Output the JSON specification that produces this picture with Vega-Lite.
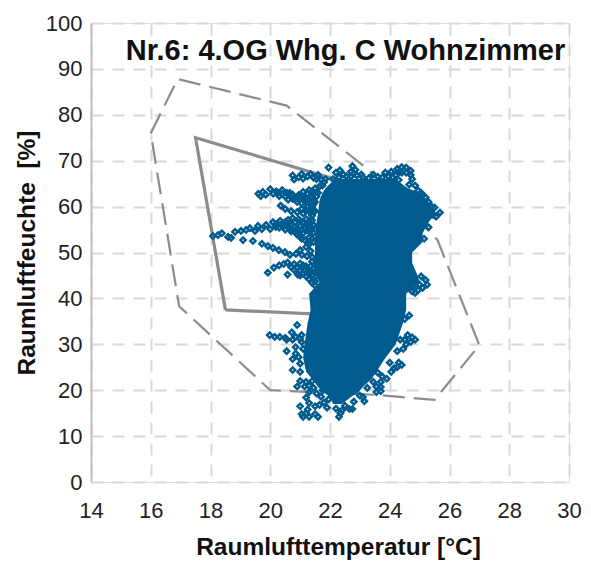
{"$schema":"https://vega.github.io/schema/vega-lite/v6.json","width":478,"height":459,"autosize":"none","padding":{"left":91,"top":23,"right":22,"bottom":83},"background":"white",
"datasets":{
"outer":[{"o":1,"t":16,"h":76},{"o":2,"t":16.9,"h":87.8},{"o":3,"t":20.55,"h":82},{"o":4,"t":23.3,"h":68},{"o":5,"t":25.6,"h":52.7},{"o":6,"t":27,"h":29.8},{"o":7,"t":25.5,"h":17.9},{"o":8,"t":23.5,"h":19},{"o":9,"t":20,"h":20},{"o":10,"t":16.95,"h":38.3},{"o":11,"t":16,"h":76}],
"inner":[{"o":1,"t":18.5,"h":37.5},{"o":2,"t":17.5,"h":75},{"o":3,"t":22,"h":66.3},{"o":4,"t":23.5,"h":60},{"o":5,"t":23.5,"h":36},{"o":6,"t":18.5,"h":37.5}],
"core":[{"h":17,"a":22.1,"b":22.4},{"h":18.5,"a":22,"b":22.7},{"h":19.5,"a":21.8,"b":22.95},{"h":20.7,"a":21.6,"b":23.1},{"h":22.5,"a":21.4,"b":23.4},{"h":24,"a":21.2,"b":23.55},{"h":27,"a":21.1,"b":23.85},{"h":30,"a":21.15,"b":24.2},{"h":34.6,"a":21.25,"b":24.44},{"h":37.5,"a":21.35,"b":24.55},{"h":41,"a":21.3,"b":24.55},{"h":43.6,"a":21.65,"b":25},{"h":45.5,"a":21.45,"b":24.9},{"h":47.7,"a":21.45,"b":24.75},{"h":50,"a":21.5,"b":24.75},{"h":52.3,"a":21.5,"b":25.1},{"h":54.2,"a":21.5,"b":25.1},{"h":56.6,"a":21.55,"b":25.3},{"h":58.6,"a":21.6,"b":25.55},{"h":61.4,"a":21.65,"b":25.25},{"h":63,"a":21.75,"b":25},{"h":64,"a":21.85,"b":24.6},{"h":65,"a":22,"b":24.4},{"h":66,"a":22.2,"b":24.2}],
"pts":[
{"t":18.08,"h":53.6},{"t":18.25,"h":53.8},{"t":18.38,"h":54.2},{"t":18.59,"h":53.4},{"t":18.69,"h":53.2},{"t":18.82,"h":54.5},{"t":19.02,"h":54.7},{"t":19.19,"h":54.9},{"t":19.32,"h":55.3},{"t":19.49,"h":54.7},{"t":19.59,"h":55.8},{"t":19.72,"h":55.1},{"t":19.86,"h":56},{"t":20,"h":55.1},{"t":20.09,"h":56.6},{"t":20.19,"h":55.6},{"t":20.33,"h":56.9},{"t":20.46,"h":55.8},{"t":20.6,"h":57.1},{"t":20.66,"h":55.1},{"t":20.83,"h":56.6},{"t":20.83,"h":54.5},{"t":21,"h":55.8},{"t":21,"h":53.6},{"t":21.16,"h":55.3},{"t":21.16,"h":52.7},{"t":21.33,"h":54.5},{"t":20.3,"h":55.4},{"t":20.5,"h":56.6},{"t":20.7,"h":56},{"t":20.9,"h":55.2},{"t":21.1,"h":56.5},{"t":21.3,"h":56},{"t":21.4,"h":53},{"t":21.3,"h":51.8},{"t":20.95,"h":57.3},{"t":20.75,"h":57.5},{"t":21.2,"h":57.3},{"t":21.4,"h":57},{"t":21.4,"h":55.3},{"t":20.5,"h":55},{"t":20.7,"h":54.6},{"t":20.9,"h":53.9},{"t":21.1,"h":54.2},{"t":21.3,"h":53.3},{"t":21.45,"h":52.3},{"t":20.2,"h":56.2},{"t":20.4,"h":56.3},{"t":20.6,"h":56.3},{"t":20.8,"h":55.6},{"t":21.05,"h":54.9},{"t":21.25,"h":54.9},{"t":21.2,"h":56},{"t":21,"h":56.8},{"t":21.45,"h":56},{"t":21.45,"h":54.3},{"t":21.05,"h":53},{"t":21.25,"h":52.2},{"t":20.95,"h":54.6},{"t":20.6,"h":55.6},{"t":21.3,"h":56.8},{"t":21.35,"h":55},
{"t":19.09,"h":52.7},{"t":19.42,"h":52.5},{"t":19.72,"h":51.9},{"t":19.92,"h":51.4},{"t":20.09,"h":51},{"t":20.29,"h":50.5},{"t":20.49,"h":50.1},{"t":20.66,"h":49.5},{"t":20.86,"h":49.7},{"t":21.06,"h":49.5},{"t":21.23,"h":49.2},{"t":21,"h":50.5},{"t":21.2,"h":51.2},{"t":21.35,"h":50.3},{"t":21.4,"h":49},
{"t":19.92,"h":45.6},{"t":20.12,"h":46.7},{"t":20.58,"h":47.8},{"t":21.2,"h":47},{"t":20.58,"h":45.2},{"t":20.92,"h":45.2},{"t":20.9,"h":46.7},{"t":21,"h":46},{"t":21.1,"h":45.4},{"t":21.2,"h":44.8},{"t":21.3,"h":46},{"t":21.3,"h":44.2},{"t":21.4,"h":43.4},{"t":20.8,"h":47.5},{"t":20.3,"h":47.2},{"t":21.5,"h":42.8},{"t":21.4,"h":48},{"t":20.45,"h":47.5},{"t":20.7,"h":46.8},{"t":21,"h":47.6},{"t":21.15,"h":46.2},{"t":21.35,"h":47},{"t":21.4,"h":45},{"t":21.45,"h":44.2},{"t":21.6,"h":42},{"t":21.05,"h":46.8},{"t":21.25,"h":46.5},{"t":21.1,"h":47.2},{"t":21.25,"h":45.5},{"t":21.35,"h":45.6},{"t":21,"h":45},{"t":20.8,"h":46.2},{"t":21.45,"h":46.5},{"t":21.5,"h":43.7},
{"t":19.6,"h":62.8},{"t":19.68,"h":62.3},{"t":19.75,"h":63.2},{"t":19.85,"h":62.6},{"t":20,"h":63.8},{"t":20.1,"h":62.8},{"t":20.2,"h":63.3},{"t":20.3,"h":62.3},{"t":20.4,"h":63.6},{"t":20.5,"h":62.2},{"t":20.65,"h":63},{"t":20.8,"h":62},{"t":20.95,"h":62.5},{"t":21.1,"h":61.8},{"t":21.25,"h":62.8},{"t":21.4,"h":62},{"t":21.5,"h":61},{"t":21.6,"h":63},{"t":20.6,"h":61.5},{"t":20.9,"h":61},{"t":21.2,"h":60.8},{"t":21.4,"h":60},{"t":20.35,"h":60.2},{"t":20.5,"h":59.5},{"t":20.7,"h":59},{"t":20.9,"h":58.8},{"t":21.1,"h":58.5},{"t":21.4,"h":58},{"t":21.3,"h":59.2},{"t":21.5,"h":64},{"t":20.25,"h":63},{"t":20.4,"h":62.7},{"t":20.55,"h":63},{"t":20.75,"h":62.6},{"t":20.9,"h":61.8},{"t":21.05,"h":62.3},{"t":21.2,"h":61.9},{"t":21.35,"h":61},{"t":21.05,"h":60.7},{"t":21.25,"h":60},{"t":21.5,"h":59},{"t":21.5,"h":63},{"t":21.3,"h":63.6},{"t":21.1,"h":63.2},{"t":21.65,"h":64.4},{"t":20.75,"h":61.7},{"t":21.15,"h":61.3},{"t":21.3,"h":61.5},{"t":21.45,"h":61.5},{"t":21.45,"h":60.5},{"t":21.2,"h":59.2},{"t":21.05,"h":59.5},{"t":20.95,"h":62},{"t":21.45,"h":59.3},{"t":21.55,"h":62.2},{"t":21.35,"h":58.6},{"t":21.4,"h":63.2},{"t":21.75,"h":64.6},
{"t":20.75,"h":66.8},{"t":20.8,"h":65.9},{"t":21.05,"h":67.1},{"t":21.1,"h":66.1},{"t":21.35,"h":67.1},{"t":21.45,"h":66.3},{"t":21.6,"h":66.9},{"t":21.7,"h":65.9},{"t":21.95,"h":68.5},{"t":21.85,"h":66},{"t":20.95,"h":66.4},{"t":21.25,"h":66.6},{"t":21.55,"h":66},{"t":21.8,"h":65.3},
{"t":22.1,"h":66},{"t":22.2,"h":67.4},{"t":22.33,"h":67.9},{"t":22.45,"h":67},{"t":22.3,"h":66.4},{"t":22.55,"h":66.6},{"t":22.7,"h":66.6},{"t":22.75,"h":68.8},{"t":22.85,"h":68},{"t":22.7,"h":67.6},{"t":22.9,"h":66.8},{"t":22.8,"h":67.2},{"t":23.05,"h":67},{"t":23.1,"h":66.4},{"t":23.3,"h":66.2},{"t":23.45,"h":67},{"t":23.6,"h":66.5},{"t":23.75,"h":66.4},{"t":23.85,"h":67.4},{"t":23.95,"h":66.6},{"t":24.05,"h":67.6},{"t":24.25,"h":68.2},{"t":24.4,"h":68.6},{"t":24.55,"h":68.5},{"t":24.7,"h":67.8},{"t":24.2,"h":66.8},{"t":24.3,"h":67.5},{"t":24.1,"h":66.4},{"t":24.3,"h":65.8},{"t":24.4,"h":67.4},{"t":24.55,"h":67.4},{"t":24.75,"h":66},{"t":24.7,"h":66.9},{"t":24.65,"h":64.8},{"t":24.85,"h":64.6},{"t":24.95,"h":63.5},{"t":25.1,"h":62.5},{"t":25.3,"h":61},{"t":25.5,"h":59.8},{"t":25.68,"h":58.7},{"t":25.55,"h":57.8},{"t":25.3,"h":55.5},{"t":25.15,"h":53},{"t":25.4,"h":60},{"t":25.2,"h":62},{"t":25.05,"h":63},{"t":25.45,"h":58.2},
{"t":25.05,"h":44.8},{"t":25.2,"h":44},{"t":25.25,"h":43},{"t":25.1,"h":42.3},{"t":24.95,"h":41.8},{"t":24.8,"h":42.6},{"t":24.75,"h":41.5},{"t":25,"h":43},{"t":24.85,"h":41.2},
{"t":24.75,"h":31.5},{"t":24.85,"h":31},{"t":24.7,"h":30.5},{"t":24.6,"h":32},{"t":24.55,"h":30},{"t":24.45,"h":29},{"t":24.35,"h":31},{"t":24.65,"h":36.3},{"t":24.5,"h":35.5},{"t":24.4,"h":25.5},{"t":24.3,"h":26},{"t":24.25,"h":25},{"t":24.15,"h":24.8},{"t":24.05,"h":24},{"t":24.5,"h":31},{"t":24.25,"h":28.5},{"t":24,"h":26},
{"t":23.6,"h":23.8},{"t":23.75,"h":23},{"t":23.9,"h":22.5},{"t":23.7,"h":21.8},{"t":23.55,"h":20.8},{"t":23.7,"h":20.7},{"t":23.55,"h":19.6},{"t":23.7,"h":19.8},{"t":23.1,"h":18.5},{"t":23.15,"h":17.6},{"t":22.65,"h":15.9},{"t":22.75,"h":15.9},{"t":22.35,"h":15},{"t":22.3,"h":14.2},{"t":22.4,"h":15.6},{"t":21.9,"h":16.2},{"t":21.8,"h":17.3},{"t":22.2,"h":16},{"t":22.5,"h":16.6},{"t":22.8,"h":17.5},{"t":23,"h":18.8},{"t":23.25,"h":20.5},{"t":23.45,"h":21.8},{"t":21.95,"h":18},{"t":21.7,"h":18.6},{"t":21.55,"h":19.3},{"t":21.75,"h":20},{"t":21.45,"h":20.5},{"t":21.65,"h":16.8},
{"t":21.6,"h":14.2},{"t":21.5,"h":14.8},{"t":21.3,"h":14.2},{"t":21.2,"h":15},{"t":21.1,"h":14.2},{"t":21.25,"h":15.8},{"t":21,"h":16.5},{"t":21.05,"h":14.8},{"t":21.5,"h":16.5},{"t":21.3,"h":17.2},{"t":21.2,"h":18.4},{"t":21.3,"h":19.6},{"t":21.15,"h":20.8},{"t":21.2,"h":21.8},{"t":21.4,"h":22},{"t":20.9,"h":20.8},{"t":21,"h":22},{"t":21.3,"h":21},{"t":20.75,"h":24.4},{"t":21,"h":24},{"t":20.75,"h":26.8},{"t":21,"h":25.8},{"t":20.85,"h":28},{"t":20.55,"h":28.5},{"t":20.85,"h":29.4},{"t":20.95,"h":27.2},
{"t":19.98,"h":32},{"t":20.15,"h":31.6},{"t":20.32,"h":31.6},{"t":20.5,"h":31.4},{"t":20.72,"h":32.6},{"t":20.75,"h":31},{"t":21,"h":31.2},{"t":20.55,"h":31},{"t":21.05,"h":32},{"t":20.9,"h":34.2},{"t":20.85,"h":31.6},{"t":21.05,"h":30.5},{"t":21.1,"h":29}
]},
"layer":[
{"data":{"name":"outer"},"mark":{"type":"line","color":"#8c8c8c","strokeWidth":2.2,"strokeDash":[22,9]},"encoding":{"x":{"field":"t","type":"quantitative","scale":{"domain":[14,30],"nice":false},"axis":{"values":[14,16,18,20,22,24,26,28,30],"title":"Raumlufttemperatur [°C]","grid":true,"gridColor":"#d9d9d9","gridDash":[12,9],"gridWidth":2,"domain":false,"ticks":false,"labelFlush":false,"labelFont":"Liberation Sans","labelFontSize":22,"labelColor":"#222222","labelPadding":18,"titleFont":"Liberation Sans","titleFontSize":24.5,"titleFontWeight":"bold","titleColor":"#111111","titlePadding":14,"titleX":247}},"y":{"field":"h","type":"quantitative","scale":{"domain":[0,100],"nice":false},"axis":{"values":[0,10,20,30,40,50,60,70,80,90,100],"title":"Raumluftfeuchte\u00a0\u00a0[%]","grid":true,"gridColor":"#d9d9d9","gridDash":[12,9],"gridWidth":2,"domain":true,"domainColor":"#bfbfbf","domainWidth":2,"ticks":false,"labelFont":"Liberation Sans","labelFontSize":22,"labelColor":"#222222","labelPadding":9,"titleFont":"Liberation Sans","titleFontSize":24.5,"titleFontWeight":"bold","titleColor":"#111111","titlePadding":6}},"order":{"field":"o","type":"quantitative"}}},
{"data":{"name":"inner"},"mark":{"type":"line","color":"#8c8c8c","strokeWidth":3.2},"encoding":{"x":{"field":"t","type":"quantitative"},"y":{"field":"h","type":"quantitative"},"order":{"field":"o","type":"quantitative"}}},
{"data":{"name":"core"},"mark":{"type":"area","orient":"horizontal","color":"#005b8f"},"encoding":{"y":{"field":"h","type":"quantitative"},"x":{"field":"a","type":"quantitative"},"x2":{"field":"b"}}},
{"data":{"name":"pts"},"mark":{"type":"point","shape":"diamond","filled":false,"stroke":"#005b8f","strokeWidth":2.4,"size":28,"opacity":1},"encoding":{"x":{"field":"t","type":"quantitative"},"y":{"field":"h","type":"quantitative"}}},
{"data":{"values":[{"t":22.52,"h":94,"s":"Nr.6: 4.OG Whg. C Wohnzimmer"}]},"mark":{"type":"text","font":"Liberation Sans","fontSize":29,"fontWeight":"bold","color":"#111111","align":"center","baseline":"middle"},"encoding":{"x":{"field":"t","type":"quantitative"},"y":{"field":"h","type":"quantitative"},"text":{"field":"s"}}}
]}
